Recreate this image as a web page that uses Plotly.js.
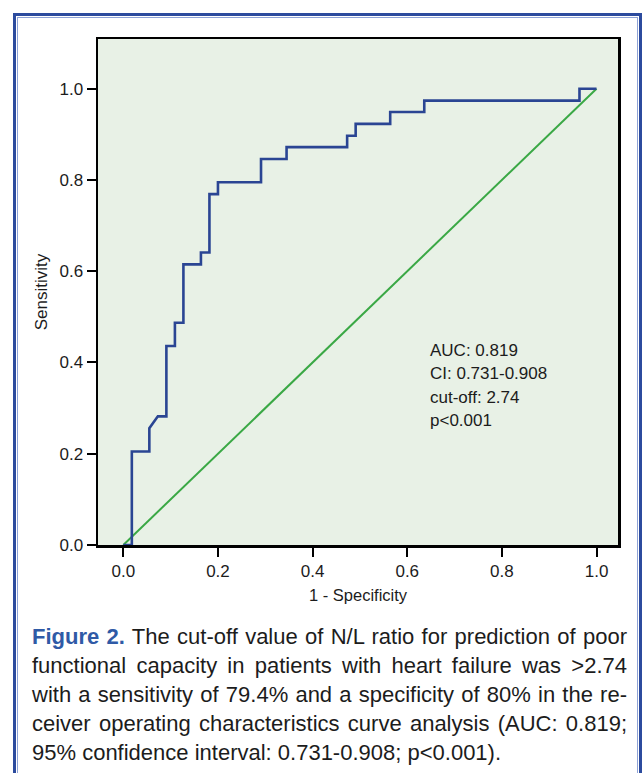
<!DOCTYPE html>
<html>
<head>
<meta charset="utf-8">
<script src="https://cdn.plot.ly/plotly-3.0.1.min.js"></script>
<style>
  html, body { margin:0; padding:0; width:644px; height:773px; overflow:hidden; background:#ffffff; }
  #frame { position:absolute; left:13px; top:13px; width:623px; height:800px; border:3px solid #2c4b9e; }
  #frameInner { position:absolute; left:1px; top:1px; right:1px; bottom:1px; border:1px solid #8ea2d6; }
  #chart { position:absolute; left:0; top:0; width:644px; height:615px; }
  #caption { position:absolute; left:32px; top:622px; width:595px; font-family:"Liberation Sans", Arial, sans-serif; font-size:22px; line-height:29px; color:#1c1c1c; }
  #caption .ln { white-space:nowrap; text-align:justify; text-align-last:justify; }
  #caption .ln.last { text-align-last:left; }
  #caption .fig { color:#2f5aa6; font-weight:bold; }
</style>
</head>
<body>
<div id="frame"><div id="frameInner"></div></div>
<div id="chart"></div>
<div id="caption">
  <div class="ln"><span class="fig">Figure 2.</span> The cut-off value of N/L ratio for prediction of poor</div>
  <div class="ln">functional capacity in patients with heart failure was &gt;2.74</div>
  <div class="ln">with a sensitivity of 79.4% and a specificity of 80% in the re-</div>
  <div class="ln">ceiver operating characteristics curve analysis (AUC: 0.819;</div>
  <div class="ln last">95% confidence interval: 0.731-0.908; p&lt;0.001).</div>
</div>
<script>
// ROC curve points (1 - specificity, sensitivity)
const fpr = [0, 0.018, 0.018, 0.055, 0.055, 0.073, 0.091, 0.091, 0.109, 0.109, 0.127, 0.127,
             0.164, 0.164, 0.182, 0.182, 0.2, 0.2, 0.291, 0.291, 0.345, 0.345, 0.473, 0.473,
             0.491, 0.491, 0.564, 0.564, 0.636, 0.636, 0.964, 0.964, 1.0];
const tpr = [0, 0, 0.205, 0.205, 0.256, 0.282, 0.282, 0.436, 0.436, 0.487, 0.487, 0.615,
             0.615, 0.641, 0.641, 0.769, 0.769, 0.795, 0.795, 0.846, 0.846, 0.872, 0.872, 0.897,
             0.897, 0.923, 0.923, 0.949, 0.949, 0.974, 0.974, 1.0, 1.0];
// reference (chance) line
const refX = [0, 1];
const refY = [0, 1];
// tick values / labels
const tickVals = [0, 0.2, 0.4, 0.6, 0.8, 1.0];
const tickText = ["0.0", "0.2", "0.4", "0.6", "0.8", "1.0"];
// statistics text
const statLines = ["AUC: 0.819", "CI: 0.731-0.908", "cut-off: 2.74", "p<0.001"];
const statY = [0.426, 0.376, 0.323, 0.273];

const FONT = "Liberation Sans, Arial, sans-serif";

const traces = [
  { x: refX, y: refY, mode: "lines", line: { color: "#3aa845", width: 2 }, hoverinfo: "skip", showlegend: false },
  { x: fpr, y: tpr, mode: "lines", line: { color: "#2a4593", width: 2.6 }, showlegend: false }
];

const annotations = statLines.map((t, i) => ({
  x: 0.644, y: statY[i], xref: "x", yref: "y", text: t, showarrow: false,
  xanchor: "left", yanchor: "middle", font: { family: FONT, size: 17, color: "#1c1c1c" }
}));

const axisCommon = {
  showgrid: false, zeroline: false, showline: true, linecolor: "#000", linewidth: 2.5, mirror: true,
  ticks: "outside", ticklen: 9, tickwidth: 2, tickcolor: "#000",
  tickvals: tickVals, ticktext: tickText,
  tickfont: { family: FONT, size: 17, color: "#1c1c1c" }, automargin: false
};

const layout = {
  width: 644, height: 615,
  margin: { l: 98, r: 26, t: 39, b: 70 },
  paper_bgcolor: "rgba(0,0,0,0)",
  plot_bgcolor: "#e8f1e6",
  showlegend: false,
  xaxis: Object.assign({}, axisCommon, {
    range: [-0.0535, 1.0454],
    title: { text: "1 - Specificity", font: { family: FONT, size: 16.5, color: "#1c1c1c" }, standoff: 10 }
  }),
  yaxis: Object.assign({}, axisCommon, {
    range: [0, 1.109],
    title: { text: "Sensitivity", font: { family: FONT, size: 17, color: "#1c1c1c" }, standoff: 8 }
  }),
  annotations: annotations
};

Plotly.newPlot("chart", traces, layout, { displayModeBar: false, staticPlot: true });
</script>
</body>
</html>
